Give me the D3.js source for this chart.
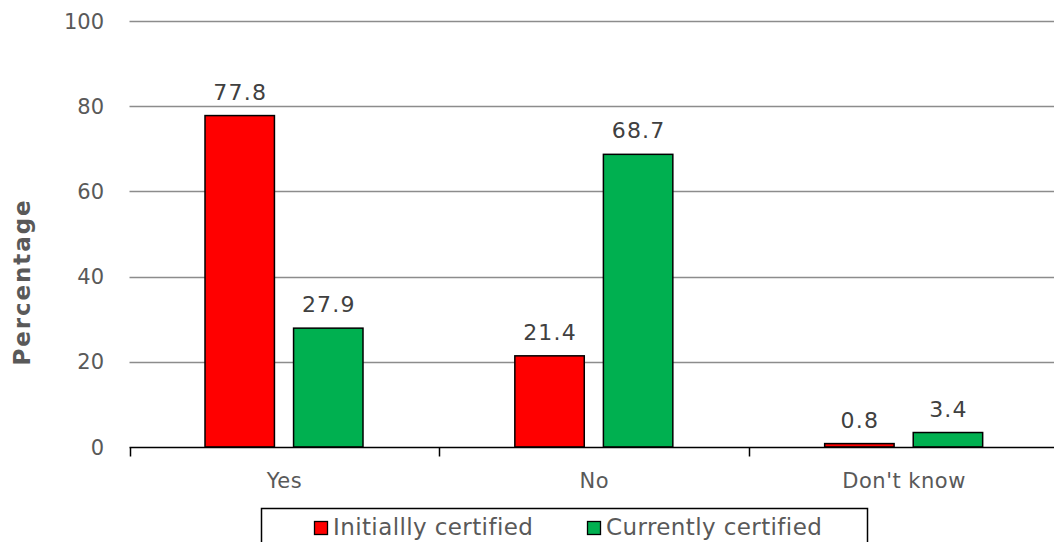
<!DOCTYPE html>
<html><head><meta charset="utf-8">
<script src="https://cdn.jsdelivr.net/npm/d3@7"></script>
<style>
body{margin:0;background:#fff;}
text{font-family:"DejaVu Sans",Verdana,sans-serif;}
</style></head>
<body><svg id="c" width="1054" height="542"></svg>
<script>
const categories = ["Yes","No","Don't know"];
const seriesNames = ["Initiallly certified","Currently certified"];
const initially = [77.8, 21.4, 0.8];
const currently = [27.9, 68.7, 3.4];
const yTicks = [0,20,40,60,80,100];
const colors = ["#ff0000","#00b050"];

const svg = d3.select("#c");
const L=129.5, R=1059, T=21, B=447;
const x = d3.scaleBand().domain(categories).range([L,R]);
const xs = d3.scaleBand().domain(seriesNames).range([75.5,233.5]).paddingInner(0.216);
const y = d3.scaleLinear().domain([0,100]).range([B,T]);
const series = [initially, currently];

// gridlines
svg.append("g").selectAll("line").data(yTicks.filter(d=>d>0)).join("line")
  .attr("x1",L).attr("x2",R).attr("y1",d=>Math.round(y(d))+0.5).attr("y2",d=>Math.round(y(d))+0.5)
  .attr("stroke","#8c8c8c").attr("stroke-width",1.3);

// y tick labels
svg.append("g").selectAll("text").data(yTicks).join("text")
  .attr("x",104).attr("y",d=>y(d)).attr("dy","0.36em").attr("text-anchor","end")
  .attr("fill","#595959").attr("font-size",21).text(d=>d);

// bars
series.forEach((vals,si)=>{
  svg.append("g").selectAll("rect").data(categories).join("rect")
    .attr("x",c=>x(c)+xs(seriesNames[si])).attr("width",xs.bandwidth())
    .attr("y",(c,i)=>y(vals[i])).attr("height",(c,i)=>B-y(vals[i]))
    .attr("fill",colors[si]).attr("stroke","#000").attr("stroke-width",1.5);
  svg.append("g").selectAll("text").data(categories).join("text")
    .attr("x",c=>x(c)+xs(seriesNames[si])+xs.bandwidth()/2+0.5)
    .attr("y",(c,i)=>y(vals[i])-16).attr("text-anchor","middle")
    .attr("fill","#404040").attr("font-size",22).attr("letter-spacing",1.2).text((c,i)=>vals[i].toFixed(1));
});

// x axis
const xa = svg.append("g").attr("transform",`translate(0,${B+0.5})`);
xa.append("line").attr("x1",L).attr("x2",R).attr("stroke","#000").attr("stroke-width",1.5);
const edges = categories.map(c=>x(c)).concat([R]);
xa.selectAll("line.t").data(edges).join("line").attr("class","t")
  .attr("x1",d=>Math.round(d)+0.5).attr("x2",d=>Math.round(d)+0.5).attr("y1",0).attr("y2",9)
  .attr("stroke","#000").attr("stroke-width",1.5);
xa.selectAll("text").data(categories).join("text")
  .attr("x",c=>x(c)+x.bandwidth()/2).attr("y",40.5).attr("text-anchor","middle")
  .attr("fill","#595959").attr("font-size",21).attr("letter-spacing",0.5).text(c=>c);

// y title
svg.append("text").attr("transform","translate(30,282) rotate(-90)").attr("text-anchor","middle")
  .attr("fill","#595959").attr("font-size",23).attr("font-weight","bold").attr("letter-spacing",1.9)
  .text("Percentage");

// legend
const lg = svg.append("g");
lg.append("rect").attr("x",261.5).attr("y",508.5).attr("width",606).attr("height",40)
  .attr("fill","#fff").attr("stroke","#000").attr("stroke-width",1.5);
const lx = [314, 587];
seriesNames.forEach((n,i)=>{
  lg.append("rect").attr("x",lx[i]+0.5).attr("y",521.5).attr("width",13).attr("height",13)
    .attr("fill",colors[i]).attr("stroke","#000").attr("stroke-width",1.3);
  lg.append("text").attr("x",lx[i]+19).attr("y",535)
    .attr("fill","#595959").attr("font-size",23).attr("letter-spacing",0.4).text(n);
});
</script></body></html>
